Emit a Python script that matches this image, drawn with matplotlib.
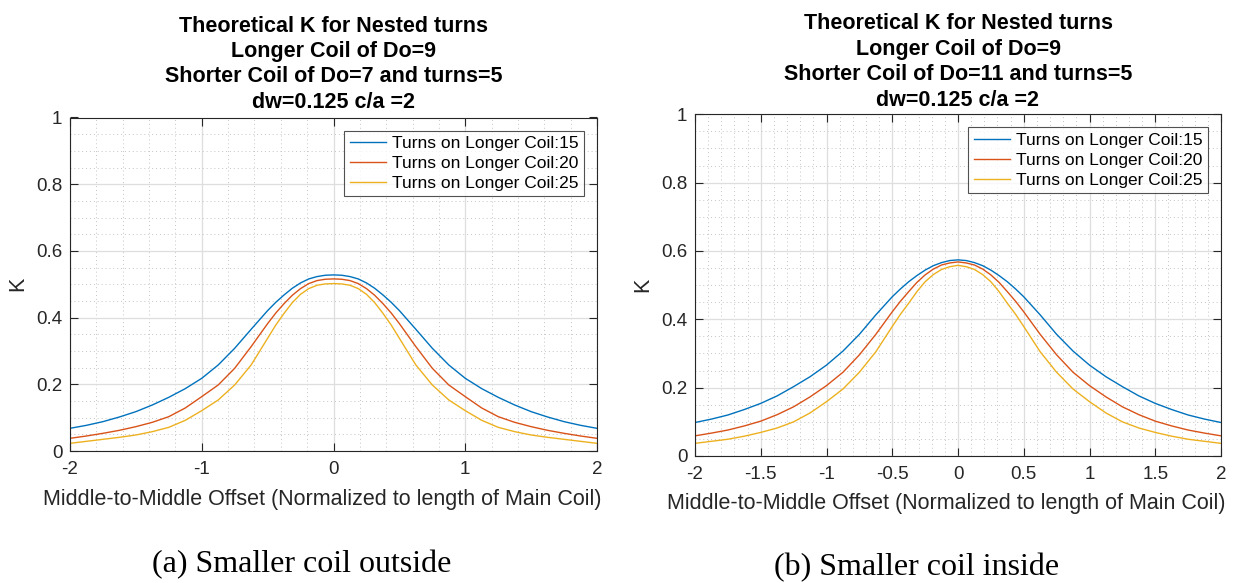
import numpy as np
import matplotlib
matplotlib.use("Agg")
import matplotlib.pyplot as plt
from matplotlib.ticker import MultipleLocator

plt.rcParams['font.family'] = ['Liberation Sans', 'DejaVu Sans']
plt.rcParams['axes.unicode_minus'] = False

# offsets (normalized to main coil length); finer sampling near the peak
offset = [-2, -1.875, -1.75, -1.625, -1.5, -1.375, -1.25, -1.125, -1, -0.875, -0.75, -0.625,
          -0.5, -0.4375, -0.375, -0.3125, -0.25, -0.1875, -0.125, -0.0625, 0,
          0.0625, 0.125, 0.1875, 0.25, 0.3125, 0.375, 0.4375, 0.5,
          0.625, 0.75, 0.875, 1, 1.125, 1.25, 1.375, 1.5, 1.625, 1.75, 1.875, 2]

series_labels = ['Turns on Longer Coil:15', 'Turns on Longer Coil:20', 'Turns on Longer Coil:25']

# (a) smaller coil outside
k_out_15 = [0.068, 0.077, 0.088, 0.102, 0.118, 0.138, 0.161, 0.187, 0.218, 0.258, 0.308, 0.365,
            0.421, 0.446, 0.468, 0.488, 0.504, 0.516, 0.523, 0.527, 0.528,
            0.527, 0.523, 0.516, 0.504, 0.488, 0.468, 0.446, 0.421,
            0.365, 0.308, 0.258, 0.218, 0.187, 0.161, 0.138, 0.118, 0.102, 0.088, 0.077, 0.068]
k_out_20 = [0.038, 0.045, 0.053, 0.062, 0.073, 0.086, 0.103, 0.129, 0.163, 0.198, 0.248, 0.313,
            0.382, 0.414, 0.442, 0.467, 0.487, 0.502, 0.511, 0.515, 0.516,
            0.515, 0.511, 0.502, 0.487, 0.467, 0.442, 0.414, 0.382,
            0.313, 0.248, 0.198, 0.163, 0.129, 0.103, 0.086, 0.073, 0.062, 0.053, 0.045, 0.038]
k_out_25 = [0.023, 0.029, 0.035, 0.041, 0.048, 0.058, 0.071, 0.092, 0.121, 0.153, 0.198, 0.258,
            0.338, 0.378, 0.413, 0.445, 0.470, 0.487, 0.497, 0.501, 0.502,
            0.501, 0.497, 0.487, 0.470, 0.445, 0.413, 0.378, 0.338,
            0.258, 0.198, 0.153, 0.121, 0.092, 0.071, 0.058, 0.048, 0.041, 0.035, 0.029, 0.023]

# (b) smaller coil inside
k_in_15 = [0.098, 0.108, 0.120, 0.136, 0.154, 0.176, 0.203, 0.232, 0.266, 0.307, 0.356, 0.413,
           0.466, 0.489, 0.510, 0.528, 0.544, 0.557, 0.566, 0.572, 0.574,
           0.572, 0.566, 0.557, 0.544, 0.528, 0.510, 0.489, 0.466,
           0.413, 0.356, 0.307, 0.266, 0.232, 0.203, 0.176, 0.154, 0.136, 0.120, 0.108, 0.098]
k_in_20 = [0.059, 0.067, 0.076, 0.088, 0.102, 0.121, 0.144, 0.173, 0.206, 0.245, 0.296, 0.356,
           0.422, 0.453, 0.481, 0.508, 0.530, 0.547, 0.559, 0.565, 0.568,
           0.565, 0.559, 0.547, 0.530, 0.508, 0.481, 0.453, 0.422,
           0.356, 0.296, 0.245, 0.206, 0.173, 0.144, 0.121, 0.102, 0.088, 0.076, 0.067, 0.059]
k_in_25 = [0.037, 0.043, 0.049, 0.058, 0.069, 0.082, 0.100, 0.126, 0.159, 0.196, 0.245, 0.305,
           0.379, 0.415, 0.447, 0.481, 0.510, 0.531, 0.546, 0.554, 0.558,
           0.554, 0.546, 0.531, 0.510, 0.481, 0.447, 0.415, 0.379,
           0.305, 0.245, 0.196, 0.159, 0.126, 0.100, 0.082, 0.069, 0.058, 0.049, 0.043, 0.037]

title_a = ['Theoretical K for Nested turns', 'Longer Coil of Do=9',
           'Shorter Coil of Do=7 and turns=5', 'dw=0.125 c/a =2']
title_b = ['Theoretical K for Nested turns', 'Longer Coil of Do=9',
           'Shorter Coil of Do=11 and turns=5', 'dw=0.125 c/a =2']
xlabel = 'Middle-to-Middle Offset (Normalized to length of Main Coil)'
colors = ['#0072BD', '#D95319', '#EDB120']
axis_grey = '#262626'

W, H = 1235, 583
fig = plt.figure(figsize=(W / 100, H / 100), dpi=100)
ax_a = fig.add_axes([70 / W, 1 - 451 / H, 527 / W, 333.5 / H])
ax_b = fig.add_axes([695 / W, 1 - 456 / H, 526 / W, 341.7 / H])


def px(x, y):
    # pixel position (from top-left) -> figure fraction
    return x / W, 1 - y / H


def style_axes(ax, x_major, x_minor):
    ax.set_xlim(-2, 2)
    ax.set_ylim(0, 1)
    ax.xaxis.set_major_locator(MultipleLocator(x_major))
    ax.xaxis.set_minor_locator(MultipleLocator(x_minor))
    ax.yaxis.set_major_locator(MultipleLocator(0.2))
    ax.yaxis.set_minor_locator(MultipleLocator(0.05))
    ax.xaxis.set_major_formatter(plt.FuncFormatter(lambda v, p: f'{v:g}'))
    ax.yaxis.set_major_formatter(plt.FuncFormatter(lambda v, p: f'{v:g}'))
    ax.grid(which='major', color='#dedede', linewidth=0.9, linestyle='-')
    ax.grid(which='minor', color='#c4c4c4', linewidth=0.7, linestyle=(0, (1, 3)))
    ax.set_axisbelow(True)
    ax.tick_params(which='major', direction='in', top=True, right=True, length=6,
                   width=0.8, color=axis_grey, labelsize=13.5, labelcolor=axis_grey)
    ax.tick_params(axis='x', pad=7)
    ax.tick_params(axis='y', pad=5.5)
    ax.tick_params(which='minor', length=0, top=True, right=True)
    for sp in ax.spines.values():
        sp.set_color(axis_grey)
        sp.set_linewidth(0.8)
    ax.set_ylabel('K', fontsize=15.5, color=axis_grey, labelpad=6)
    leg = ax.legend(loc='upper right', fontsize=12.5, frameon=True, fancybox=False,
                    edgecolor=axis_grey, handlelength=2.1, handletextpad=0.35,
                    borderpad=0.3, labelspacing=0.28, borderaxespad=0.75)
    leg.get_frame().set_linewidth(0.8)


for vals, c, lab in zip([k_out_15, k_out_20, k_out_25], colors, series_labels):
    ax_a.plot(offset, vals, color=c, linewidth=1.0, label=lab)
for vals, c, lab in zip([k_in_15, k_in_20, k_in_25], colors, series_labels):
    ax_b.plot(offset, vals, color=c, linewidth=1.0, label=lab)

style_axes(ax_a, 1, 0.2)
style_axes(ax_b, 0.5, 0.1)

# titles, one line at a time, centred over each axes
for i, line in enumerate(title_a):
    fig.text(*px(333.5, 31.5 + 25.5 * i), line, fontsize=15.5, fontweight='bold',
             ha='center', va='baseline')
for i, line in enumerate(title_b):
    fig.text(*px(958, 29 + 25.7 * i), line, fontsize=15.5, fontweight='bold',
             ha='center', va='baseline')

fig.text(*px(322, 505), xlabel, fontsize=15.5, color=axis_grey, ha='center', va='baseline')
fig.text(*px(946, 509), xlabel, fontsize=15.5, color=axis_grey, ha='center', va='baseline')

fig.text(*px(302, 572), '(a) Smaller coil outside', family='Liberation Serif',
         fontsize=23, ha='center', va='baseline')
fig.text(*px(917, 575), '(b) Smaller coil inside', family='Liberation Serif',
         fontsize=23, ha='center', va='baseline')

fig.savefig('out.png', dpi=100)
